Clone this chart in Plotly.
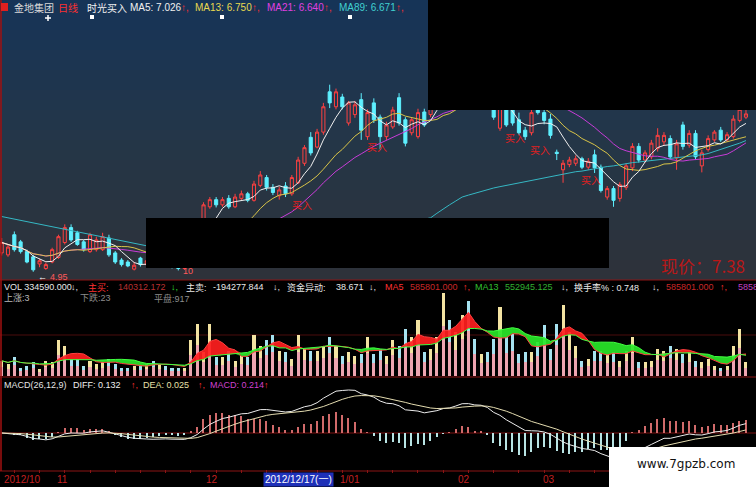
import numpy as np
import pandas as pd
import plotly.graph_objects as go

# ---------------- data ----------------
opens = [5.24,5.21,5.52,5.41,5.26,5.18,5.07,5.00,5.10,5.17,
         5.40,5.63,5.55,5.41,5.26,5.29,5.29,5.47,5.24,5.13,
         5.10,4.99,5.16,5.06,5.12,5.08,5.15,5.10,5.05,5.00,
         5.08,5.30,5.70,5.95,6.06,5.98,6.08,5.95,6.08,6.15,
         6.05,6.28,6.40,6.25,6.12,6.27,6.15,6.32,6.62,7.02,
         6.87,7.10,7.72,7.49,7.64,7.24,7.37,7.60,7.03,7.55,
         7.33,7.03,7.18,7.63,7.29,7.09,7.03,7.41,7.37,7.55,
         7.70,7.92,7.78,8.02,8.20,8.02,7.85,8.00,7.70,7.16,
         7.55,7.45,7.29,7.13,7.09,7.45,7.40,7.30,6.79,6.52,
         6.60,6.62,6.69,6.56,6.75,6.56,6.10,6.23,6.08,6.25,
         6.55,6.88,6.67,6.72,6.85,6.95,7.00,6.70,7.21,6.90,
         7.08,6.58,6.83,6.98,7.13,6.98,7.03,7.28,7.33]
highs = [5.47,5.37,5.57,5.44,5.29,5.21,5.15,5.09,5.32,5.52,
         5.68,5.68,5.58,5.44,5.55,5.49,5.55,5.52,5.27,5.16,
         5.13,5.10,5.18,5.16,5.18,5.20,5.19,5.13,5.08,5.12,
         5.35,5.62,6.02,6.10,6.10,6.10,6.13,6.15,6.20,6.18,
         6.35,6.50,6.44,6.30,6.26,6.33,6.44,6.72,6.90,7.10,
         7.15,7.55,7.83,7.77,7.69,7.58,7.58,7.70,7.45,7.62,
         7.37,7.26,7.49,7.70,7.33,7.33,7.46,7.46,7.62,7.78,
         7.95,8.00,8.12,8.28,8.25,8.08,8.06,8.05,7.80,7.60,
         7.62,7.55,7.40,7.18,7.50,7.52,7.45,7.38,6.83,6.67,
         6.72,6.74,6.72,6.70,6.83,6.60,6.27,6.27,6.33,6.62,
         6.93,6.93,6.82,6.98,7.16,7.10,7.05,6.98,7.26,7.13,
         7.13,6.83,7.05,7.13,7.18,7.10,7.36,7.52,7.60]
lows = [5.20,5.18,5.26,5.23,5.08,4.95,5.02,4.98,5.08,5.15,
        5.37,5.41,5.35,5.26,5.24,5.26,5.27,5.18,5.07,5.03,
        5.02,4.97,5.03,5.02,5.04,5.05,5.06,5.00,4.97,4.98,
        5.06,5.28,5.67,5.92,5.94,5.95,5.92,5.93,6.05,6.02,
        6.03,6.25,6.20,6.13,6.06,6.10,6.12,6.30,6.58,6.74,
        6.85,7.06,7.47,7.45,7.45,7.20,7.32,6.98,6.98,7.24,
        6.83,6.98,7.15,7.20,6.88,7.05,7.00,7.18,7.33,7.50,
        7.66,7.72,7.75,7.98,7.95,7.80,7.80,7.70,7.29,7.12,
        7.18,7.20,7.05,6.98,7.05,7.37,7.22,7.00,6.67,6.32,
        6.56,6.58,6.53,6.52,6.47,6.17,6.06,5.95,6.03,6.21,
        6.50,6.63,6.63,6.68,6.80,6.90,6.68,6.52,6.83,6.86,
        6.67,6.48,6.80,6.95,6.95,6.95,7.00,7.25,7.30]
closes = [5.40,5.33,5.29,5.26,5.10,4.98,5.12,5.06,5.29,5.49,
          5.63,5.44,5.37,5.29,5.52,5.44,5.49,5.21,5.10,5.06,
          5.04,5.05,5.06,5.12,5.08,5.15,5.10,5.05,5.00,5.08,
          5.30,5.55,5.98,6.06,5.98,6.06,5.95,6.10,6.15,6.05,
          6.30,6.44,6.25,6.17,6.21,6.15,6.40,6.67,6.86,6.78,
          7.10,7.49,7.55,7.72,7.49,7.55,7.52,7.13,7.40,7.29,
          7.03,7.21,7.44,7.24,6.93,7.29,7.40,7.21,7.55,7.72,
          7.90,7.78,8.05,8.20,8.00,7.85,8.00,7.75,7.33,7.50,
          7.21,7.24,7.09,7.03,7.40,7.40,7.28,7.05,6.77,6.62,
          6.67,6.69,6.56,6.65,6.55,6.20,6.23,6.05,6.29,6.58,
          6.88,6.67,6.78,6.93,7.05,7.05,6.72,6.92,6.88,7.08,
          6.72,6.78,7.00,7.10,6.98,7.06,7.30,7.45,7.38]
ma89 = [5.80,5.78,5.76,5.75,5.73,5.71,5.69,5.67,5.65,5.63,
        5.61,5.59,5.57,5.55,5.53,5.51,5.49,5.47,5.45,5.43,
        5.41,5.39,5.37,5.35,5.33,5.31,5.30,5.29,5.28,5.27,
        5.26,5.26,5.25,5.25,5.25,5.25,5.26,5.26,5.27,5.28,
        5.29,5.30,5.31,5.32,5.33,5.34,5.35,5.37,5.38,5.40,
        5.41,5.43,5.45,5.47,5.49,5.51,5.53,5.55,5.57,5.59,
        5.61,5.63,5.65,5.67,5.69,5.71,5.73,5.76,5.78,5.85,
        5.92,5.98,6.04,6.10,6.13,6.16,6.19,6.22,6.24,6.26,
        6.28,6.30,6.32,6.34,6.36,6.38,6.40,6.42,6.44,6.46,
        6.47,6.49,6.50,6.52,6.54,6.55,6.57,6.58,6.60,6.61,
        6.63,6.64,6.65,6.66,6.67,6.68,6.69,6.70,6.71,6.72,
        6.73,6.75,6.77,6.80,6.83,6.86,6.89,6.93,6.97]
volume_k = [180,140,220,100,120,160,80,180,160,420,
            360,200,200,120,180,140,160,200,140,100,
            100,120,120,140,180,140,120,100,100,100,
            420,620,280,620,220,220,300,180,240,220,
            480,360,420,480,300,280,200,480,320,300,
            300,360,460,360,240,280,240,260,460,260,
            320,240,420,360,560,460,660,280,320,460,
            980,660,520,720,880,440,260,280,440,820,
            460,500,260,280,280,400,600,320,620,840,
            520,360,180,200,300,300,260,280,180,300,
            460,160,160,180,320,300,360,320,260,280,
            180,160,200,120,100,120,360,560,160]
month_pos = [0, 8.5, 32, 53.3, 72, 85.5]
month_labels = ["2012/10", "11", "12", "1/01", "02", "03"]
cursor_label = "2012/12/17(一)"

# ---------------- derived indicators ----------------
n = len(closes)
idx = list(range(n))
c = pd.Series(closes)
ma5 = c.rolling(5, min_periods=1).mean()
ma13 = c.rolling(13, min_periods=1).mean()
ma21 = c.rolling(21, min_periods=1).mean()
ema12 = c.ewm(span=12, adjust=False).mean()
ema26 = c.ewm(span=26, adjust=False).mean()
diff = ema12 - ema26
dea = diff.ewm(span=9, adjust=False).mean()
hist = 2 * (diff - dea)
v = pd.Series(volume_k, dtype=float)
vma5 = v.rolling(5, min_periods=1).mean()
vma13 = v.rolling(13, min_periods=1).mean()
up = [cl >= op for op, cl in zip(opens, closes)]

# ---------------- layout helpers ----------------
W, H = 756, 487
def px(x): return x / W
def py(y): return 1 - y / H
FONT = "Liberation Sans, Noto Sans CJK SC"
CJK = "Noto Sans CJK SC"
RED = "#ff3030"
GREEN = "#30e030"

fig = go.Figure()

# price panel
fig.add_trace(go.Candlestick(
    x=idx, open=opens, high=highs, low=lows, close=closes,
    increasing=dict(line=dict(color="#ff4040", width=1), fillcolor="rgba(0,0,0,0)"),
    decreasing=dict(line=dict(color="#5ef0ff", width=1), fillcolor="#5ef0ff"),
    whiskerwidth=0, xaxis="x", yaxis="y", hoverinfo="skip"))
for series, col in [(ma89, "#35b8c4"), (ma21, "#c83cd8"), (ma13, "#d8c448"), (ma5, "#f0f0f0")]:
    fig.add_trace(go.Scatter(x=idx, y=list(series), mode="lines",
                             line=dict(color=col, width=1), xaxis="x", yaxis="y", hoverinfo="skip"))

# volume panel
fig.add_trace(go.Bar(x=idx, y=volume_k, width=0.48, marker=dict(color="#eda4b0", line_width=0),
                     xaxis="x2", yaxis="y2", hoverinfo="skip"))
top_part = [vv * 0.4 for vv in volume_k]
top_base = [vv * 0.6 for vv in volume_k]
fig.add_trace(go.Bar(x=idx, y=top_part, base=top_base, width=0.48,
                     marker=dict(color=["#f3e3a2" if u else "#a6e2f0" for u in up], line_width=0),
                     xaxis="x2", yaxis="y2", hoverinfo="skip"))
hi_v = np.maximum(vma5, vma13)
lo_v = np.minimum(vma5, vma13)
fig.add_trace(go.Scatter(x=idx, y=list(vma13), mode="lines", line=dict(width=0), xaxis="x2", yaxis="y2", hoverinfo="skip"))
fig.add_trace(go.Scatter(x=idx, y=list(hi_v), mode="lines", line=dict(width=0), fill="tonexty",
                         fillcolor="rgba(255,30,30,0.92)", xaxis="x2", yaxis="y2", hoverinfo="skip"))
fig.add_trace(go.Scatter(x=idx, y=list(vma13), mode="lines", line=dict(width=0), xaxis="x2", yaxis="y2", hoverinfo="skip"))
fig.add_trace(go.Scatter(x=idx, y=list(lo_v), mode="lines", line=dict(width=0), fill="tonexty",
                         fillcolor="rgba(40,230,40,0.92)", xaxis="x2", yaxis="y2", hoverinfo="skip"))
fig.add_trace(go.Scatter(x=idx, y=list(vma5), mode="lines", line=dict(color="#ff4040", width=1), xaxis="x2", yaxis="y2", hoverinfo="skip"))
fig.add_trace(go.Scatter(x=idx, y=list(vma13), mode="lines", line=dict(color="#40ff40", width=1), xaxis="x2", yaxis="y2", hoverinfo="skip"))

# MACD panel
fig.add_trace(go.Bar(x=idx, y=list(hist), width=0.22,
                     marker=dict(color=["#d06a6a" if h >= 0 else "#b8e4e4" for h in hist], line_width=0),
                     xaxis="x3", yaxis="y3", hoverinfo="skip"))
fig.add_trace(go.Scatter(x=idx, y=list(diff), mode="lines", line=dict(color="#ececec", width=1), xaxis="x3", yaxis="y3", hoverinfo="skip"))
fig.add_trace(go.Scatter(x=idx, y=list(dea), mode="lines", line=dict(color="#e4dcb0", width=1), xaxis="x3", yaxis="y3", hoverinfo="skip"))

dmax = float(max(diff.max(), dea.max()))
R = dmax * 89 / 43
macd_range = [-(469 - 433) / 89 * R, (433 - 380) / 89 * R]

# ---------------- shapes ----------------
shapes = []
stops = [(0, (22, 52, 88)), (140, (36, 54, 72)), (280, (46, 50, 57))]
def band_color(y):
    for (y0, c0), (y1, c1) in zip(stops[:-1], stops[1:]):
        if y <= y1:
            t = (y - y0) / (y1 - y0)
            return "rgb(%d,%d,%d)" % tuple(round(a + (b - a) * t) for a, b in zip(c0, c1))
    return "rgb(%d,%d,%d)" % stops[-1][1]
for k in range(28):
    y0 = k * 10
    shapes.append(dict(type="rect", xref="paper", yref="paper", x0=0, x1=1,
                       y0=py(y0 + 10), y1=py(y0), fillcolor=band_color(y0 + 5), line_width=0, layer="below"))
for yl in (280, 377, 471):
    shapes.append(dict(type="line", xref="paper", yref="paper", x0=0, x1=1, y0=py(yl), y1=py(yl),
                       line=dict(color="#8c1414", width=1.2), layer="below"))
shapes.append(dict(type="line", xref="paper", yref="paper", x0=0, x1=1, y0=py(335), y1=py(335),
                   line=dict(color="#4a0c0c", width=1), layer="below"))
shapes.append(dict(type="line", xref="paper", yref="paper", x0=0, x1=1, y0=py(433), y1=py(433),
                   line=dict(color="#7a1010", width=1), layer="below"))
shapes.append(dict(type="line", xref="paper", yref="paper", x0=px(1), x1=px(1), y0=py(471), y1=py(0),
                   line=dict(color="#a01010", width=1.5)))
# red dot icon and small signal markers on top row
shapes.append(dict(type="rect", xref="paper", yref="paper", x0=px(1), x1=px(8), y0=py(11), y1=py(3),
                   fillcolor="#e02020", line_width=0))
for mx in (90, 220, 348):
    shapes.append(dict(type="rect", xref="paper", yref="paper", x0=px(mx), x1=px(mx + 4), y0=py(19), y1=py(15),
                       fillcolor="#ffffff", line_width=0))
# "+" signal marker
shapes.append(dict(type="line", xref="paper", yref="paper", x0=px(45), x1=px(51), y0=py(18), y1=py(18),
                   line=dict(color="#ffffff", width=1.5)))
shapes.append(dict(type="line", xref="paper", yref="paper", x0=px(48), x1=px(48), y0=py(21), y1=py(15),
                   line=dict(color="#ffffff", width=1.5)))
# black occluding boxes
shapes.append(dict(type="rect", xref="paper", yref="paper", x0=px(428), x1=1, y0=py(110), y1=1,
                   fillcolor="#000000", line_width=0, layer="above"))
shapes.append(dict(type="rect", xref="paper", yref="paper", x0=px(146), x1=px(609), y0=py(268), y1=py(218),
                   fillcolor="#000000", line_width=0, layer="above"))
# white watermark box
shapes.append(dict(type="rect", xref="paper", yref="paper", x0=px(609), x1=1, y0=0, y1=py(447),
                   fillcolor="#ffffff", line_width=0, layer="above"))

# ---------------- annotations ----------------
ann = []
def txt(x, y, s, color, size=9, family=FONT, anchor="left", **kw):
    d = dict(x=px(x), y=py(y), xref="paper", yref="paper", text=s, showarrow=False,
             xanchor=anchor, yanchor="middle", font=dict(color=color, size=size, family=family))
    d.update(kw)
    ann.append(d)

# top header
HY = 7.5
txt(12, HY, "金地集团", "#d8d8d8", 10, CJK)
txt(56, HY, "日线", "#ff3030", 10, CJK)
txt(85, HY, "时光买入", "#f0f0f0", 10, CJK)
for x0, s, col, xa in [(128, "MA5: 7.026", "#f0f0f0", 179), (193, "MA13: 6.750", "#e8d850", 250),
                       (265, "MA21: 6.640", "#e040e0", 322), (337, "MA89: 6.671", "#40d0d0", 394)]:
    txt(x0, HY, s, col, 10)
    txt(xa, HY, "↑,", RED, 10)

# volume header
vol_chunks = [(2, "VOL 334590.000", "#e8e8e8"), (69, "↓,", "#e8e8e8"),
              (86, "主买:", "#ff3030"), (116, "140312.172", "#b83030"), (169, "↓,", GREEN),
              (184, "主卖:", "#e8e8e8"), (211, "-194277.844", "#e8e8e8"), (271, "↓,", "#e8e8e8"),
              (285, "资金异动:", "#e8e8e8"), (334, "38.671", "#e8e8e8"), (367, "↓,", "#e8e8e8"),
              (383, "MA5", "#ff3030"), (408, "585801.000", "#c82828"), (461, "↑,", RED),
              (473, "MA13", "#30c030"), (503, "552945.125", "#30b030"), (559, "↓,", "#e8e8e8"),
              (572, "换手率% : 0.748", "#e8e8e8"), (650, "↓,", "#e8e8e8"),
              (664, "585801.000", "#c82828"), (718, "↑,", RED), (736, "5858", "#c040c0")]
for x0, s, col in vol_chunks:
    txt(x0, 287, s, col, 9)
txt(2, 298, "上涨:3", "#b8b8b8", 9)
txt(78, 298, "下跌:23", "#8c8c8c", 9)
txt(152, 298, "平盘:917", "#8c8c8c", 9)

# MACD header
for x0, s, col in [(2, "MACD(26,12,9)", "#e4e4e4"), (71, "DIFF: 0.132", "#eeeeee"), (129, "↑,", RED),
                   (141, "DEA: 0.025", "#e8e0a8"), (196, "↑,", RED), (208, "MACD: 0.214", "#d040d0"),
                   (262, "↑", RED)]:
    txt(x0, 385, s, col, 9)

# price panel labels
for bx, by in [(302, 205), (377, 146), (515, 137), (540, 149), (591, 180)]:
    txt(bx, by, "买入", "#e02020", 10, CJK, anchor="center")
txt(36, 277, "←", "#ffffff", 9)
txt(48, 277, "4.95", "#ff5a5a", 9)
txt(181, 271, "10", "#ff5a5a", 9)
txt(747, 265, "现价：7.38", "#b81818", 17, CJK, anchor="right")

# x-axis month labels
for pos, lab in zip(month_pos, month_labels):
    ann.append(dict(x=pos, y=py(479), xref="x", yref="paper", text=lab, showarrow=False,
                    xanchor="left", yanchor="middle", font=dict(color="#c42020", size=10, family=FONT)))
txt(263, 479, cursor_label, "#ffffff", 10, FONT, bgcolor="#1e30b8", borderpad=1)
txt(686, 464, "www.7gpzb.com", "#111111", 12, "DejaVu Sans", anchor="center")

xr = [-0.27, 119.59]
fig.update_layout(
    width=W, height=H, margin=dict(l=0, r=0, t=0, b=0),
    paper_bgcolor="#000000", plot_bgcolor="rgba(0,0,0,0)",
    showlegend=False, hovermode=False, barmode="overlay", bargap=0,
    shapes=shapes, annotations=ann,
    xaxis=dict(domain=[0, 1], range=xr, anchor="y", visible=False, rangeslider=dict(visible=False)),
    xaxis2=dict(domain=[0, 1], range=xr, anchor="y2", visible=False),
    xaxis3=dict(domain=[0, 1], range=xr, anchor="y3", showticklabels=False, showgrid=False,
                zeroline=False, showline=False, ticks="outside", ticklen=3, tickcolor="#8c1414",
                tickvals=list(range(2, n, 4))),
    yaxis=dict(domain=[py(275), py(10)], range=[4.90, 8.98], visible=False),
    yaxis2=dict(domain=[py(376), py(282)], range=[0, 1110], visible=False),
    yaxis3=dict(domain=[py(469), py(380)], range=macd_range, visible=False),
)
fig.write_html("out.html", config={"displayModeBar": False},
               post_script="document.body.style.margin='0';document.body.style.padding='0';"
                           "document.documentElement.style.background='#000';")
